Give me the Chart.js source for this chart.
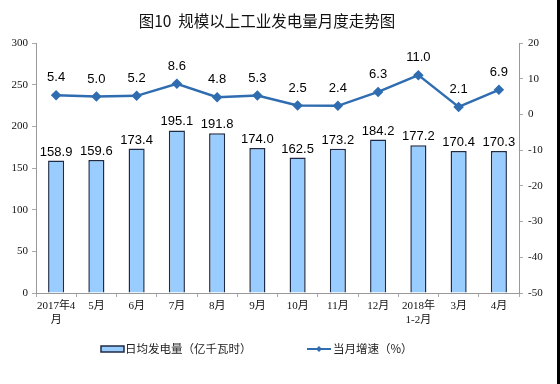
<!DOCTYPE html>
<html>
<head>
<meta charset="utf-8">
<script src="https://cdn.jsdelivr.net/npm/chart.js@4/dist/chart.umd.min.js"></script>
<style>
  html, body { margin: 0; padding: 0; background: #000; }
  #wrap { width: 557px; height: 384px; background: #fff; }
</style>
</head>
<body>
<div id="wrap"><canvas id="c" width="557" height="384"></canvas></div>
<script>
// 数据
const months = [['2017年4', '月'], '5月', '6月', '7月', '8月', '9月', '10月', '11月', '12月', ['2018年', '1-2月'], '3月', '4月'];
const dailyOutput = [158.9, 159.6, 173.4, 195.1, 191.8, 174.0, 162.5, 173.2, 184.2, 177.2, 170.4, 170.3];
const growthRate = [5.4, 5.0, 5.2, 8.6, 4.8, 5.3, 2.5, 2.4, 6.3, 11.0, 2.1, 6.9];

const titleText = '图10  规模以上工业发电量月度走势图';
const barLabel = '日均发电量（亿千瓦时）';
const lineLabel = '当月增速（%）';

const lineColor = '#2f6db0';
const barFill = '#99ccff';
const barBorder = '#1f2a44';
const serif = '"Liberation Serif", "Noto Sans CJK SC", serif';
const sans = '"Liberation Sans", Arial, "Noto Sans CJK SC", sans-serif';

// 标题、数值标签、图例
const extras = {
  id: 'extras',
  afterDatasetsDraw(chart) {
    const ctx = chart.ctx;
    ctx.save();
    ctx.fillStyle = '#000';
    ctx.font = '13px ' + sans;
    ctx.textAlign = 'center';
    ctx.textBaseline = 'bottom';
    // 数据集 1 = 柱，数据集 0 = 折线
    chart.getDatasetMeta(1).data.forEach((bar, i) => {
      ctx.fillText(dailyOutput[i].toFixed(1), bar.x, bar.y - 2);
    });
    chart.getDatasetMeta(0).data.forEach((pt, i) => {
      ctx.fillText(growthRate[i].toFixed(1), pt.x, pt.y - 11);
    });
    ctx.restore();
  },
  afterDraw(chart) {
    const ctx = chart.ctx;
    ctx.save();
    // 标题
    ctx.fillStyle = '#111';
    ctx.font = '15.5px "Noto Sans CJK SC", sans-serif';
    ctx.textAlign = 'center';
    ctx.textBaseline = 'middle';
    ctx.fillText(titleText, 267, 21);

    // 图例
    const ly = 349;
    ctx.fillStyle = barFill;
    ctx.strokeStyle = barBorder;
    ctx.lineWidth = 1.5;
    ctx.fillRect(101, ly - 3, 23, 6);
    ctx.strokeRect(101, ly - 3, 23, 6);
    ctx.strokeStyle = lineColor;
    ctx.lineWidth = 2;
    ctx.beginPath();
    ctx.moveTo(307, ly);
    ctx.lineTo(331, ly);
    ctx.stroke();
    ctx.fillStyle = lineColor;
    ctx.beginPath();
    ctx.moveTo(319, ly - 3);
    ctx.lineTo(322, ly);
    ctx.lineTo(319, ly + 3);
    ctx.lineTo(316, ly);
    ctx.closePath();
    ctx.fill();
    ctx.fillStyle = '#222';
    ctx.font = '11.5px "Noto Sans CJK SC", sans-serif';
    ctx.textAlign = 'left';
    ctx.fillText(barLabel, 125, ly);
    ctx.fillText(lineLabel, 333, ly);
    ctx.restore();
  }
};

new Chart(document.getElementById('c'), {
  data: {
    labels: months,
    datasets: [
      {
        type: 'line',
        label: lineLabel,
        data: growthRate,
        yAxisID: 'y1',
        borderColor: lineColor,
        backgroundColor: lineColor,
        borderWidth: 2.5,
        pointStyle: 'rectRot',
        pointRadius: 3.5,
        tension: 0,
        order: 0
      },
      {
        type: 'bar',
        label: barLabel,
        data: dailyOutput,
        yAxisID: 'y',
        backgroundColor: barFill,
        borderColor: barBorder,
        borderWidth: 1.5,
        barPercentage: 0.4,
        categoryPercentage: 1,
        order: 1
      }
    ]
  },
  options: {
    responsive: false,
    animation: false,
    layout: { padding: { top: 43, bottom: 51, left: 0, right: 0 } },
    plugins: {
      legend: { display: false },
      title: { display: false },
      tooltip: { enabled: false }
    },
    scales: {
      x: {
        offset: true,
        grid: { offset: true, drawOnChartArea: false, tickLength: 4, color: '#aaa' },
        border: { color: '#999' },
        ticks: { color: '#111', font: { family: serif, size: 11 }, padding: 3, maxRotation: 0, autoSkip: false },
        afterFit(s) { s.height = 40; }
      },
      y: {
        position: 'left',
        min: 0, max: 300,
        ticks: { stepSize: 50, color: '#111', font: { family: serif, size: 11 }, padding: 4 },
        grid: { drawOnChartArea: false, tickLength: 4, color: '#aaa' },
        border: { color: '#999' },
        afterFit(s) { s.width = 36; }
      },
      y1: {
        position: 'right',
        min: -50, max: 20,
        ticks: { stepSize: 10, color: '#111', font: { family: serif, size: 11 }, padding: 5 },
        grid: { drawOnChartArea: false, tickLength: 4, color: '#aaa' },
        border: { color: '#999' },
        afterFit(s) { s.width = 38; }
      }
    }
  },
  plugins: [extras]
});
</script>
</body>
</html>
